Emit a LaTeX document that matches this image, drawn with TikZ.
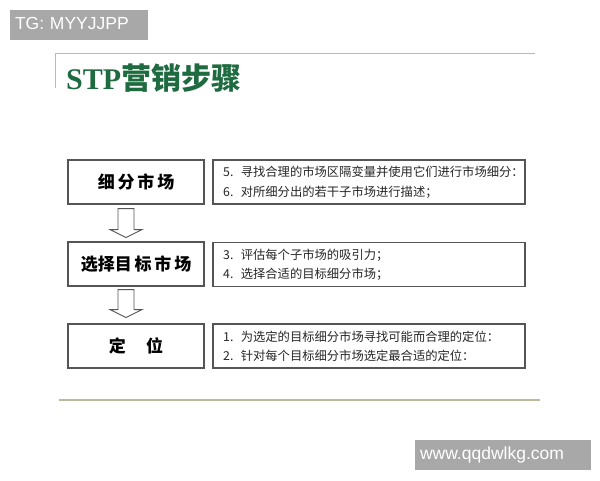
\documentclass[tikz,border=0pt]{standalone}
\usepackage{fontspec}
\setmainfont{Liberation Serif}
\newfontfamily\cjk{Noto Sans CJK SC}
\newfontfamily\wm{Liberation Sans}
\usetikzlibrary{calc}
\definecolor{wmgray}{HTML}{A8A8A8}
\definecolor{tan}{HTML}{C9B88C}
\definecolor{olive}{HTML}{BDBA9C}
\definecolor{titlegreen}{HTML}{1E6B40}
\definecolor{boxline}{HTML}{555555}
\tikzset{
  stepbox/.style={draw=boxline, line width=1.1pt, fill=white, minimum width=136pt, minimum height=44pt, inner sep=0pt, font=\cjk\bfseries\fontsize{17}{20}\selectfont},
  descbox/.style={draw=boxline, line width=1.1pt, fill=white, minimum width=312pt, minimum height=44pt, inner sep=0pt},
  desctext/.style={anchor=west, inner sep=0pt, font=\cjk\fontsize{12.3}{14}\selectfont, text=black!85},
  blockarrow/.style={draw=boxline, line width=0.9pt, fill=white},
  wmbox/.style={fill=wmgray, text=white, inner ysep=0pt, inner xsep=5pt, font=\wm\fontsize{17.5}{19}\selectfont, text height=12.5pt, text depth=3.5pt, minimum height=30pt}
}
\begin{document}
\begin{tikzpicture}[x=1pt,y=-1pt]
\useasboundingbox (0,0) rectangle (600,480);
\fill[white] (0,0) rectangle (600,480);
% watermark boxes
\node[wmbox, text width=128pt, align=left] (tg) at (79,25) {TG: MYYJJPP};
\node[wmbox, text width=166pt, align=left] (www) at (503,455) {www.qqdwlkg.com};
% frame lines
\coordinate (fa) at (55,88);
\coordinate (fb) at (55,53);
\coordinate (fc) at (535,53);
\draw[tan, line width=1pt] (fa) -- (fb) -- (fc);
\coordinate (la) at (59,400);
\coordinate (lb) at (540,400);
\draw[olive, line width=2pt] (la) -- (lb);
% title
\node[anchor=west, inner sep=0pt, text=titlegreen] (title) at (66,78) {\fontsize{30}{34}\selectfont\bfseries STP\cjk 营销步骤};
% boxes
\node[stepbox] (s1) at (136,182) {细\,分\,市\,场};
\node[descbox] (d1) at (369,182) {};
\node[desctext] (d1a) at (223,172) {5.\hspace{0.6em}寻找合理的市场区隔变量并使用它们进行市场细分：};
\node[desctext] (d1b) at (223,192) {6.\hspace{0.6em}对所细分出的若干子市场进行描述；};
\node[stepbox] (s2) at (136,264) {选择目\,标\,市\,场};
\node[descbox] (d2) at (369,264.5) {};
\node[desctext] (d2a) at (223,255) {3.\hspace{0.6em}评估每个子市场的吸引力；};
\node[desctext] (d2b) at (223,274) {4.\hspace{0.6em}选择合适的目标细分市场；};
\node[stepbox] (s3) at (136,346) {定\hspace{1.2em}位};
\node[descbox] (d3) at (369,346) {};
\node[desctext] (d3a) at (223,337) {1.\hspace{0.6em}为选定的目标细分市场寻找可能而合理的定位：};
\node[desctext] (d3b) at (223,356) {2.\hspace{0.6em}针对每个目标细分市场选定最合适的定位：};
% block arrows
\draw[blockarrow] ($(s1.south)+(-18,4)$) -- ++(0,21) -- ++(-8,0) -- ++(16,8) -- ++(16,-8) -- ++(-8,0) -- ++(0,-21) -- cycle;
\draw[blockarrow] ($(s2.south)+(-18,3)$) -- ++(0,20) -- ++(-8,0) -- ++(16,8) -- ++(16,-8) -- ++(-8,0) -- ++(0,-20) -- cycle;
\end{tikzpicture}
\end{document}
